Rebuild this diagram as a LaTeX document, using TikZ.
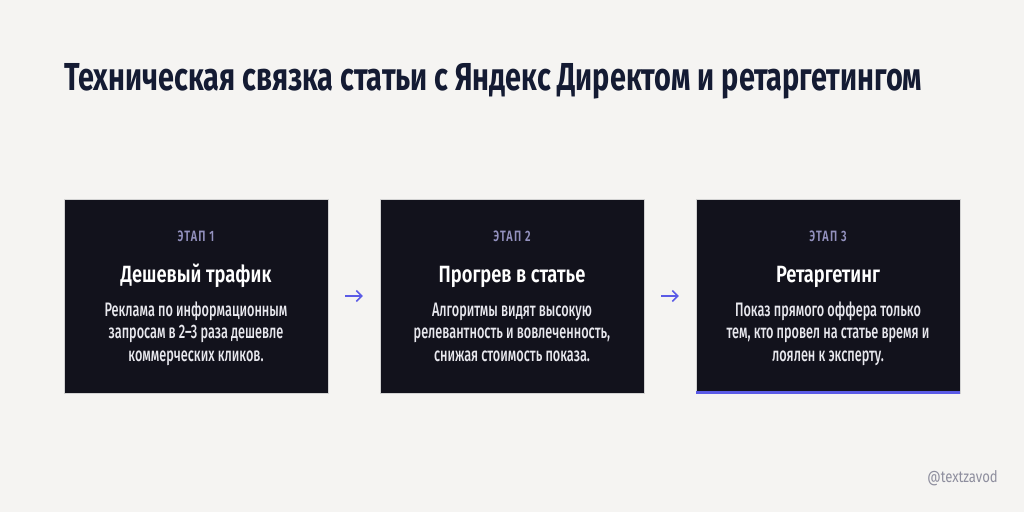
\documentclass[tikz,border=0pt]{standalone}
\usepackage{fontspec}
\setmainfont{Fira Sans}
\newfontfamily\titlefont{Fira Sans}[FakeStretch=0.74]
\newfontfamily\headfont{Fira Sans SemiBold}[FakeStretch=0.78]
\newfontfamily\bodyfont{Fira Sans Medium}[FakeStretch=0.65]
\newfontfamily\labelfont{Fira Sans SemiBold}[FakeStretch=0.72,LetterSpace=8]
\newfontfamily\markfont{Fira Sans}[FakeStretch=0.82]
\definecolor{bgc}{HTML}{F5F4F2}
\definecolor{titlec}{HTML}{141B33}
\definecolor{boxc}{HTML}{12121C}
\definecolor{bodyc}{HTML}{E8E8EE}
\definecolor{labelc}{HTML}{9391BE}
\definecolor{accentc}{HTML}{5B5BE6}
\definecolor{markc}{HTML}{8E8E9E}
\usetikzlibrary{arrows.meta}
\tikzset{
  stagebox/.style={draw=gray!35, line width=0.6pt, fill=boxc},
  stagelabel/.style={anchor=base, inner sep=0pt, text=labelc, font=\labelfont\fontsize{15}{15}\selectfont},
  stagehead/.style={anchor=base, inner sep=0pt, text=white, font=\headfont\fontsize{23.5}{23.5}\selectfont},
  stagebody/.style={anchor=base, inner sep=0pt, text=bodyc, align=center, font=\bodyfont\fontsize{19.5}{22.7}\selectfont},
  flowarrow/.style={draw=accentc, line width=1.5pt, -{Straight Barb[length=5.5pt,width=11pt]}},
}
\begin{document}
\begin{tikzpicture}[x=1pt,y=-1pt]
\fill[bgc] (0,0) rectangle (1024,512);
\useasboundingbox (0,0) rectangle (1024,512);
\node[anchor=base west, inner sep=0pt, text=titlec, font=\titlefont\bfseries\fontsize{39}{39}\selectfont] (title) at (64,90) {Техническая связка статьи с Яндекс Директом и ретаргетингом};

% boxes
\draw[stagebox] (64,199) rectangle (328,393);
\coordinate (box1w) at (64,296); \coordinate (box1e) at (328,296);
\draw[stagebox] (380,199) rectangle (644,393);
\coordinate (box2w) at (380,296); \coordinate (box2e) at (644,296);
\draw[stagebox] (696,199) rectangle (960,393);
\coordinate (box3w) at (696,296);
\fill[accentc] (696,390.5) rectangle (960,393.5);

% stage 1
\node[stagelabel] (l1) at (196,241) {ЭТАП 1};
\node[stagehead] (h1) at (196,282) {Дешевый трафик};
\node[stagebody] (b1) at (196,361.5) {Реклама по информационным\\запросам в 2–3 раза дешевле\\коммерческих кликов.};
% stage 2
\node[stagelabel] (l2) at (512,241) {ЭТАП 2};
\node[stagehead] (h2) at (512,282) {Прогрев в статье};
\node[stagebody] (b2) at (512,361.5) {Алгоритмы видят высокую\\релевантность и вовлеченность,\\снижая стоимость показа.};
% stage 3
\node[stagelabel] (l3) at (828,241) {ЭТАП 3};
\node[stagehead] (h3) at (828,282) {Ретаргетинг};
\node[stagebody] (b3) at (828,361.5) {Показ прямого оффера только\\тем, кто провел на статье время и\\лоялен к эксперту.};

% arrows
\path (box1e) -- (box2w) coordinate[pos=0.33] (a1s) coordinate[pos=0.67] (a1e);
\path (box2e) -- (box3w) coordinate[pos=0.33] (a2s) coordinate[pos=0.67] (a2e);
\draw[flowarrow] (a1s) -- (a1e);
\draw[flowarrow] (a2s) -- (a2e);

\node[anchor=base east, inner sep=0pt, text=markc, font=\markfont\fontsize{16}{16}\selectfont] (mark) at (998,482) {@textzavod};
\end{tikzpicture}
\end{document}
